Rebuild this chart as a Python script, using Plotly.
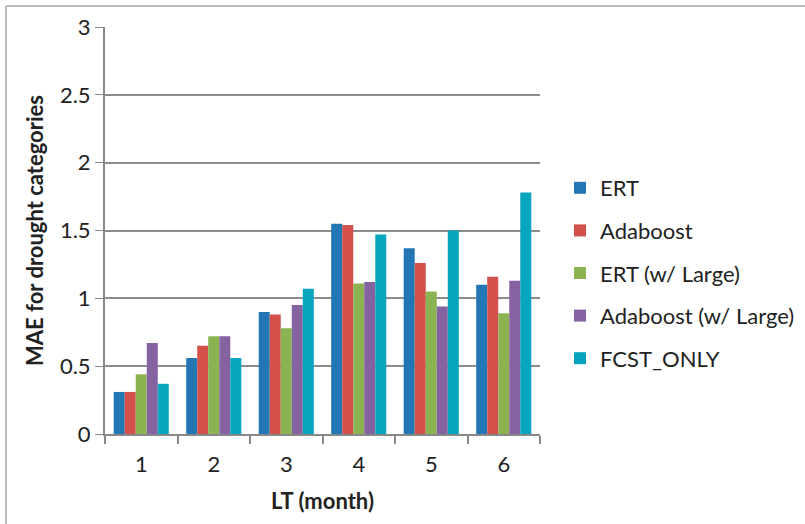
import plotly.graph_objects as go

categories = ["1", "2", "3", "4", "5", "6"]
ert = [0.31, 0.56, 0.90, 1.55, 1.37, 1.10]
adaboost = [0.31, 0.65, 0.88, 1.54, 1.26, 1.16]
ert_large = [0.44, 0.72, 0.78, 1.11, 1.05, 0.89]
adaboost_large = [0.67, 0.72, 0.95, 1.12, 0.94, 1.13]
fcst_only = [0.37, 0.56, 1.07, 1.47, 1.50, 1.78]

series_names = ["ERT", "Adaboost", "ERT (w/ Large)", "Adaboost (w/ Large)", "FCST_ONLY"]
series_values = [ert, adaboost, ert_large, adaboost_large, fcst_only]
colors = ["#2176B3", "#D4504B", "#8BB352", "#8562A0", "#07A5BE"]

W, H = 805, 524
ml, mr, mt, mb = 105, W - 540, 27, H - 434
pw, ph = W - ml - mr, H - mt - mb

fig = go.Figure()
for i, (name, vals, c) in enumerate(zip(series_names, series_values, colors)):
    fig.add_trace(go.Bar(x=categories, y=vals, name=name, legendgroup="g%d" % i,
                         marker=dict(color=c, line=dict(width=0))))

font_family = "Lato, 'Open Sans', sans-serif"
fs = 22
fig.update_layout(
    width=W, height=H,
    margin=dict(l=ml, r=mr, t=mt, b=mb, autoexpand=False),
    paper_bgcolor="white", plot_bgcolor="white",
    barmode="group", bargap=0.24, bargroupgap=0,
    font=dict(family=font_family, size=fs, color="#222222"),
    showlegend=True,
    legend=dict(x=(560 - ml) / pw, y=(434 - 167) / ph, xanchor="left", yanchor="top",
                tracegroupgap=11, itemwidth=30, font=dict(size=fs, color="#222222"),
                bgcolor="rgba(0,0,0,0)"),
    xaxis=dict(type="category", tickson="boundaries", ticks="outside", ticklen=8,
               tickcolor="#888888", tickwidth=2, showline=True, linecolor="#888888", linewidth=2,
               showgrid=False, tickfont=dict(size=fs), ticklabelstandoff=10,
               title=dict(text="<b>LT (month)</b>", font=dict(size=fs), standoff=17)),
    yaxis=dict(range=[0, 3], tickvals=[0, 0.5, 1, 1.5, 2, 2.5, 3],
               ticktext=["0", "0.5", "1", "1.5", "2", "2.5", "3"],
               ticks="outside", ticklen=8, tickcolor="#888888", tickwidth=1,
               showline=True, linecolor="#888888", linewidth=2,
               showgrid=True, gridcolor="#8c8c8c", gridwidth=2, zeroline=False,
               tickfont=dict(size=fs),
               title=dict(text="<b>MAE for drought categories</b>", font=dict(size=fs), standoff=10)),
    shapes=[
        dict(type="line", xref="paper", yref="paper", x0=(6 - ml) / pw, x1=(W + 5 - ml) / pw,
             y0=(434 - 6) / ph, y1=(434 - 6) / ph, line=dict(color="#bdbdbd", width=2)),
        dict(type="line", xref="paper", yref="paper", x0=(6 - ml) / pw, x1=(6 - ml) / pw,
             y0=(434 - 6) / ph, y1=(434 - H - 5) / ph, line=dict(color="#bdbdbd", width=2)),
    ],
)

fig.write_html("out.html", config={"displayModeBar": False},
               post_script="document.body.style.margin='0';document.body.style.overflow='hidden';")
